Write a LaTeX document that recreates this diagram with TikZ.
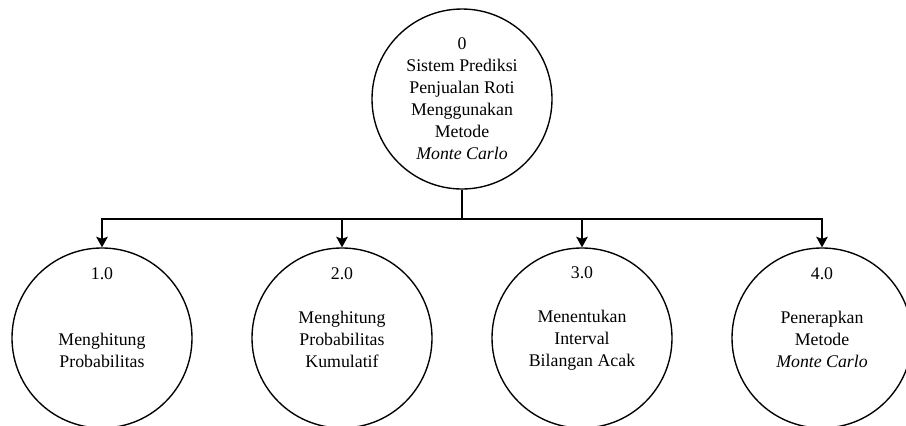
\documentclass[tikz,border=0pt]{standalone}
\usepackage{fontspec}
\setmainfont{Liberation Serif}
\usetikzlibrary{arrows.meta, calc}

\tikzset{
    proc/.style={draw, circle, minimum size=3cm, inner sep=0pt, line width=0.65pt},
    proctext/.style={align=center, font=\fontsize{8.44}{10.43}\selectfont, inner sep=0pt},
    flow/.style={-{Stealth[length=5pt, width=5.5pt, inset=1pt]}, line width=0.65pt}
}

\begin{document}
\begin{tikzpicture}
            \useasboundingbox (0,0) rectangle (15.1,-7.0833);
            
            \node[proc, proctext] (top) at (7.7,-1.65) {0\\Sistem Prediksi\\Penjualan Roti\\Menggunakan\\Metode\\\textit{Monte Carlo}};
            \coordinate (bus) at (7.7,-3.65);
            \draw[line width=0.65pt] (top.south)--(bus);
            
            \foreach \x/\n/\txt [count=\i] in {1.7/1.0/{\mbox{}\\\mbox{}\\Menghitung\\Probabilitas},
                                              5.7/2.0/{\mbox{}\\Menghitung\\Probabilitas\\Kumulatif},
                                              9.7/3.0/{\mbox{}\\Menentukan\\Interval\\Bilangan Acak},
                                              13.7/4.0/{\mbox{}\\Penerapkan\\Metode\\\textit{Monte Carlo}}} {
                \node[proc] (p\i) at (\x,-5.633) {};
                \node[proctext] (t\i) at ($(p\i)+(0,0.333)$) {\n\\\txt};
                \draw[flow] (bus) -| (p\i.north);
            }
        \end{tikzpicture}
\end{document}
